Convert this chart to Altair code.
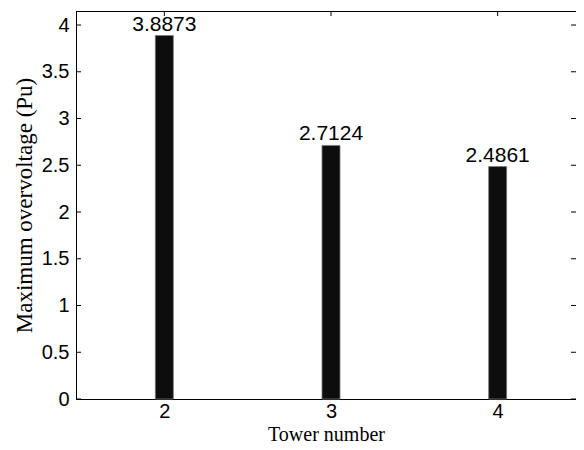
import altair as alt
import pandas as pd

# Data
towers = [2, 3, 4]
overvoltage = [3.8873, 2.7124, 2.4861]
y_tick_values = [0, 0.5, 1, 1.5, 2, 2.5, 3, 3.5, 4]
x_tick_values = [2, 3, 4]

bars_df = pd.DataFrame({"tower": towers, "value": overvoltage})
yticks_df = pd.DataFrame({"v": y_tick_values})
xticks_df = pd.DataFrame({"t": x_tick_values})

W, H = 500, 388
xscale = alt.Scale(domain=[1.5, 4.44], nice=False, zero=False)
yscale = alt.Scale(domain=[0, 4.15], nice=False, zero=True)

x_axis = alt.Axis(
    values=x_tick_values, format="d", title="Tower number",
    labelFont="Liberation Sans", labelFontSize=20, labelColor="black",
    labelBaseline="alphabetic", labelPadding=18,
    ticks=False, tickSize=0, grid=False,
    domainColor="black", domainWidth=1,
    titleFont="Liberation Serif", titleFontSize=20, titleFontWeight="normal",
    titleColor="black", titleBaseline="alphabetic", titleY=41,
)
y_axis = alt.Axis(
    values=y_tick_values, format="~g", title="Maximum overvoltage (Pu)",
    labelFont="Liberation Sans", labelFontSize=20, labelColor="black",
    labelPadding=7, ticks=False, tickSize=0, grid=False,
    domainColor="black", domainWidth=1,
    titleFont="Liberation Serif", titleFontSize=23, titleFontWeight="normal",
    titleColor="black", titleBaseline="alphabetic", titleX=-45,
)

bars = alt.Chart(bars_df).mark_bar(
    size=18, color="#0d0d0d", stroke="#7a7a7a", strokeWidth=0.8
).encode(
    x=alt.X("tower:Q", scale=xscale, axis=x_axis),
    y=alt.Y("value:Q", scale=yscale, axis=y_axis),
)

labels = alt.Chart(bars_df).mark_text(
    baseline="bottom", dy=-1, font="Liberation Sans", fontSize=21, color="black"
).encode(
    x=alt.X("tower:Q", scale=xscale, axis=x_axis),
    y=alt.Y("value:Q", scale=yscale, axis=y_axis),
    text=alt.Text("value:Q", format=".4f"),
)

# inward ticks (MATLAB style)
left_ticks = alt.Chart(yticks_df).mark_rule(color="black", strokeWidth=1).encode(
    y=alt.Y("v:Q", scale=yscale, axis=y_axis),
    x=alt.value(0), x2=alt.value(5),
)
right_ticks = alt.Chart(yticks_df).mark_rule(color="black", strokeWidth=1).encode(
    y=alt.Y("v:Q", scale=yscale, axis=y_axis),
    x=alt.value(W - 5), x2=alt.value(W),
)
top_ticks = alt.Chart(xticks_df).mark_rule(color="black", strokeWidth=1).encode(
    x=alt.X("t:Q", scale=xscale, axis=x_axis),
    y=alt.value(0), y2=alt.value(5),
)
top_border = alt.Chart(pd.DataFrame({"a": [0]})).mark_rule(
    color="black", strokeWidth=1
).encode(x=alt.value(0), x2=alt.value(W), y=alt.value(0.5))

chart = alt.layer(
    bars, labels, left_ticks, right_ticks, top_ticks, top_border
).properties(
    width=W, height=H,
    autosize=alt.AutoSizeParams(type="none"),
    padding={"left": 68, "top": 3, "right": 0, "bottom": 46},
    background="white",
).configure_view(stroke=None)

chart.save("out.html", embed_options={"renderer": "svg", "actions": False})
